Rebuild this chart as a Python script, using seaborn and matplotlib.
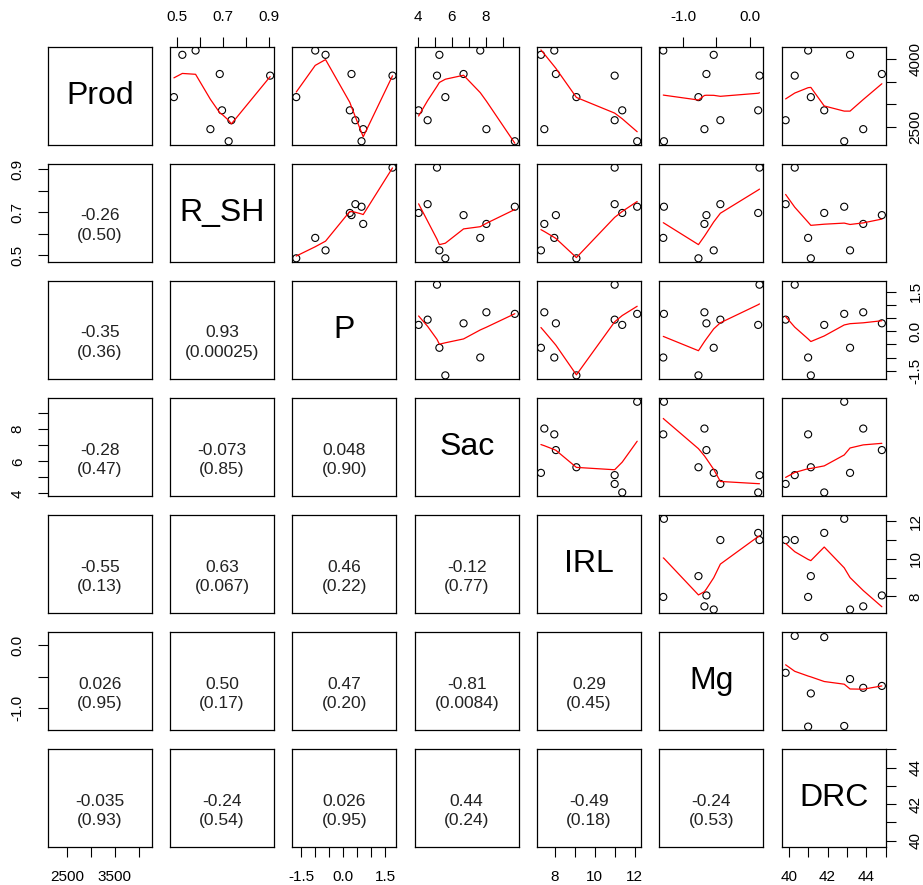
import matplotlib
matplotlib.use('Agg')

import matplotlib.pyplot as plt
import seaborn as sns
import numpy as np

var_names = ['Prod', 'R_SH', 'P', 'Sac', 'IRL', 'Mg', 'DRC']
prod = [4190, 4095, 3670, 3634, 3158, 2865, 2646, 2448, 2180]
r_sh = [0.580, 0.522, 0.686, 0.907, 0.485, 0.696, 0.737, 0.645, 0.725]
p_val = [-1.00, -0.63, 0.30, 1.77, -1.68, 0.24, 0.44, 0.72, 0.66]
sac = [7.68, 5.28, 6.70, 5.14, 5.63, 4.06, 4.59, 8.04, 9.71]
irl = [7.97, 7.30, 8.05, 11.0, 9.08, 11.38, 11.0, 7.47, 12.13]
mg = [-1.30, -0.54, -0.65, 0.15, -0.77, 0.13, -0.44, -0.68, -1.29]
drc = [41.0, 43.16, 44.8, 40.31, 41.14, 41.83, 39.84, 43.84, 42.86]
columns = [prod, r_sh, p_val, sac, irl, mg, drc]

# lower panels: correlation and (p-value), one list per row
cor_labels = [
    [],
    ['-0.26\n(0.50)'],
    ['-0.35\n(0.36)', '0.93\n(0.00025)'],
    ['-0.28\n(0.47)', '-0.073\n(0.85)', '0.048\n(0.90)'],
    ['-0.55\n(0.13)', '0.63\n(0.067)', '0.46\n(0.22)', '-0.12\n(0.77)'],
    ['0.026\n(0.95)', '0.50\n(0.17)', '0.47\n(0.20)', '-0.81\n(0.0084)', '0.29\n(0.45)'],
    ['-0.035\n(0.93)', '-0.24\n(0.54)', '0.026\n(0.95)', '0.44\n(0.24)', '-0.49\n(0.18)', '-0.24\n(0.53)'],
]

# axis ticks and the labels R kept on each side
tick_pos = [
    [2500, 3000, 3500, 4000],
    [0.5, 0.6, 0.7, 0.8, 0.9],
    [-1.5, -1.0, -0.5, 0.0, 0.5, 1.0, 1.5],
    [4, 5, 6, 7, 8, 9],
    [8, 9, 10, 11, 12],
    [-1.0, -0.5, 0.0],
    [40, 41, 42, 43, 44, 45],
]
tick_lab_x = [
    ['2500', '', '3500', ''],
    ['0.5', '', '0.7', '', '0.9'],
    ['-1.5', '', '', '0.0', '', '', '1.5'],
    ['4', '', '6', '', '8', ''],
    ['8', '', '10', '', '12'],
    ['-1.0', '', '0.0'],
    ['40', '', '42', '', '44', ''],
]
tick_lab_y = [
    ['2500', '', '', '4000'],
    ['0.5', '', '0.7', '', '0.9'],
    ['-1.5', '', '', '0.0', '', '', '1.5'],
    ['4', '', '6', '', '8', ''],
    ['8', '', '10', '', '12'],
    ['-1.0', '', '0.0'],
    ['40', '', '42', '', '44', ''],
]


def lowess(x, y, f=2/3, iters=3):
    # port of R's clowess
    x = np.asarray(x, float)
    y = np.asarray(y, float)
    o = np.argsort(x, kind='stable')
    x, y = x[o], y[o]
    n = len(x)
    ns = max(2, min(n, int(f * n + 1e-7)))
    rng = x[-1] - x[0]
    rw = np.ones(n)
    ys = np.zeros(n)
    for it in range(iters + 1):
        nleft, nright = 0, ns - 1
        for i in range(n):
            while nright < n - 1 and x[i] - x[nleft] > x[nright + 1] - x[i]:
                nleft += 1
                nright += 1
            h = max(x[i] - x[nleft], x[nright] - x[i])
            h9, h1 = 0.999 * h, 0.001 * h
            w = np.zeros(n)
            j = nleft
            while j < n:
                r = abs(x[j] - x[i])
                if r <= h9:
                    w[j] = 1.0 if r <= h1 else (1 - (r / h) ** 3) ** 3
                    if it > 0:
                        w[j] *= rw[j]
                elif x[j] > x[i]:
                    break
                j += 1
            nrt = j - 1
            a = w[nleft:nrt + 1].sum()
            if a <= 0:
                ys[i] = y[i]
                continue
            ww = w[nleft:nrt + 1] / a
            xx = x[nleft:nrt + 1]
            if h > 0:
                m = (ww * xx).sum()
                b = x[i] - m
                c = (ww * (xx - m) ** 2).sum()
                if np.sqrt(c) > 0.001 * rng:
                    ww = ww * (b / c * (xx - m) + 1)
            ys[i] = (ww * y[nleft:nrt + 1]).sum()
        if it == iters:
            break
        res = np.abs(y - ys)
        cmad = 6 * np.median(res)
        if cmad < 1e-7 * res.mean():
            break
        u = res / cmad
        rw = np.where(u <= 0.001, 1.0, np.where(u <= 0.999, (1 - u ** 2) ** 2, 0.0))
    return x, ys


sns.set_style('white')
plt.rcParams['font.family'] = ['Liberation Sans', 'DejaVu Sans']

fig, axes = plt.subplots(7, 7, figsize=(9.23, 8.85), dpi=100)
fig.subplots_adjust(left=0.0517, right=0.9596, bottom=0.0426, top=0.947,
                    wspace=0.177, hspace=0.195)

lims = []
for col in columns:
    lo, hi = min(col), max(col)
    pad = 0.04 * (hi - lo)
    lims.append((lo - pad, hi + pad))

for i in range(7):
    for j in range(7):
        ax = axes[i, j]
        ax.set_xlim(lims[j])
        ax.set_ylim(lims[i])
        if i < j:
            sns.scatterplot(x=columns[j], y=columns[i], ax=ax, marker='o', s=26,
                            facecolors='none', edgecolor='black', linewidth=0.8)
            lx, ly = lowess(columns[j], columns[i])
            sns.lineplot(x=lx, y=ly, ax=ax, color='red', linewidth=0.9,
                         sort=False, estimator=None)
        elif i > j:
            r, p = cor_labels[i][j].split('\n')
            ax.text(0.5, 0.47, r, transform=ax.transAxes, ha='center', va='center',
                    fontsize=12.5, color='#222222')
            ax.text(0.5, 0.27, p, transform=ax.transAxes, ha='center', va='center',
                    fontsize=12.5, color='#222222')
        else:
            ax.text(0.5, 0.5, var_names[i], transform=ax.transAxes, ha='center',
                    va='center', fontsize=23, color='black')

        ax.set_xticks([])
        ax.set_yticks([])
        ax.tick_params(bottom=False, top=False, left=False, right=False)
        if i == 0 and j % 2 == 1:
            ax.xaxis.tick_top()
            ax.set_xticks(tick_pos[j])
            ax.set_xticklabels(tick_lab_x[j])
            ax.tick_params(top=True)
        if i == 6 and j % 2 == 0:
            ax.set_xticks(tick_pos[j])
            ax.set_xticklabels(tick_lab_x[j])
            ax.tick_params(bottom=True)
        if j == 0 and i % 2 == 1:
            ax.set_yticks(tick_pos[i])
            ax.set_yticklabels(tick_lab_y[i], rotation=90, va='center')
            ax.tick_params(left=True)
        if j == 6 and i % 2 == 0:
            ax.yaxis.tick_right()
            ax.set_yticks(tick_pos[i])
            ax.set_yticklabels(tick_lab_y[i], rotation=90, va='center')
            ax.tick_params(right=True)
        ax.tick_params(direction='out', length=7.5, width=0.8, pad=9,
                       labelsize=11, color='black', labelcolor='black')
        ax.set_xlabel('')
        ax.set_ylabel('')
        for s in ax.spines.values():
            s.set_color('black')
            s.set_linewidth(0.9)

plt.savefig('out.png', dpi=100, facecolor='white')
plt.close()
